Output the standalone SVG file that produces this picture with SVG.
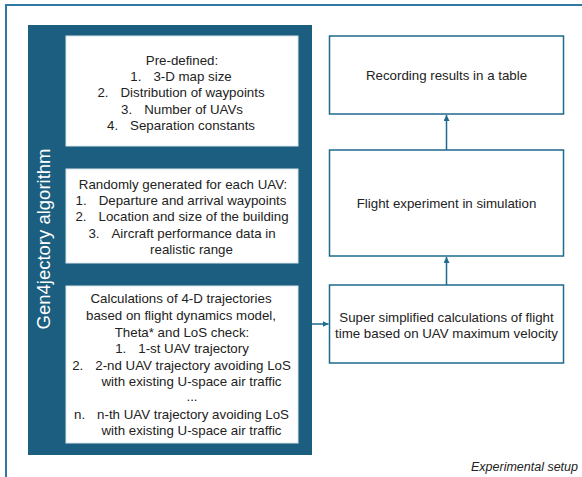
<svg xmlns="http://www.w3.org/2000/svg" width="582" height="477" viewBox="0 0 582 477">
<defs>
<style>
.t{font-family:"Liberation Sans",Arial,sans-serif;font-size:13.3px;fill:#222222;text-anchor:middle}
.wb{fill:#ffffff;stroke:#d9e4ea;stroke-width:1}
.rb{fill:#ffffff;stroke:#1f6a8f;stroke-width:1.5}
.c{stroke:#1f6a8f;stroke-width:1.5;fill:none}
</style>
<marker id="ah" viewBox="0 0 6 6" refX="6" refY="3" markerWidth="4" markerHeight="4" orient="auto">
<path d="M0,0 L6,3 L0,6 Z" fill="#1f6a8f"/>
</marker>
</defs>
<rect x="0" y="0" width="582" height="477" fill="#ffffff"/>
<rect id="frame" x="6" y="5" width="600" height="500" fill="none" stroke="#2f77a5" stroke-width="2"/>
<g id="gen4jectory">
<rect x="28" y="25" width="284" height="430" fill="#1b5e7f"/>
<text x="0" y="0" transform="translate(50,239) rotate(-90)" font-family="Liberation Sans,Arial,sans-serif" font-size="18.5" fill="#ffffff" text-anchor="middle">Gen4jectory algorithm</text>
</g>
<g id="predefined">
<rect class="wb" x="66" y="36" width="232" height="110"/>
<text class="t" x="182" y="65">Pre-defined:</text>
<text class="t" x="181" y="81">1.<tspan dx="12">3-D map size</tspan></text>
<text class="t" x="181" y="97">2.<tspan dx="12">Distribution of waypoints</tspan></text>
<text class="t" x="182" y="114">3.<tspan dx="12">Number of UAVs</tspan></text>
<text class="t" x="181" y="130">4.<tspan dx="12">Separation constants</tspan></text>
</g>
<g id="random">
<rect class="wb" x="66" y="169" width="232" height="94"/>
<text class="t" x="183" y="189">Randomly generated for each UAV:</text>
<text class="t" x="181" y="205">1.<tspan dx="12">Departure and arrival waypoints</tspan></text>
<text class="t" x="182" y="221">2.<tspan dx="12">Location and size of the building</tspan></text>
<text class="t" x="182" y="238">3.<tspan dx="12">Aircraft performance data in</tspan></text>
<text class="t" x="191.5" y="254">realistic range</text>
</g>
<g id="calc4d">
<rect class="wb" x="66" y="286" width="232" height="157"/>
<text class="t" x="181" y="303">Calculations of 4-D trajectories</text>
<text class="t" x="181" y="320">based on flight dynamics model,</text>
<text class="t" x="182" y="337">Theta* and LoS check:</text>
<text class="t" x="182" y="353">1.<tspan dx="12">1-st UAV trajectory</tspan></text>
<text class="t" x="181.5" y="370">2.<tspan dx="12">2-nd UAV trajectory avoiding LoS</tspan></text>
<text class="t" x="191.5" y="386">with existing U-space air traffic</text>
<text class="t" x="192" y="401">...</text>
<text class="t" x="181.5" y="419">n.<tspan dx="12">n-th UAV trajectory avoiding LoS</tspan></text>
<text class="t" x="191.5" y="435">with existing U-space air traffic</text>
</g>
<g id="recording">
<rect class="rb" x="329.5" y="36" width="234" height="78"/>
<text class="t" x="446.5" y="80">Recording results in a table</text>
</g>
<g id="flight">
<rect class="rb" x="329.5" y="150" width="234" height="106"/>
<text class="t" x="446.5" y="208">Flight experiment in simulation</text>
</g>
<g id="simplified">
<rect class="rb" x="329.5" y="285" width="234" height="78"/>
<text class="t" x="446.5" y="322">Super simplified calculations of flight</text>
<text class="t" x="446.5" y="338">time based on UAV maximum velocity</text>
</g>
<g id="connectors">
<line class="c" x1="312" y1="324" x2="328.5" y2="324" marker-end="url(#ah)"/>
<line class="c" x1="446.5" y1="285" x2="446.5" y2="257" marker-end="url(#ah)"/>
<line class="c" x1="446.5" y1="150" x2="446.5" y2="115" marker-end="url(#ah)"/>
</g>
<text x="578" y="471" font-family="Liberation Sans,Arial,sans-serif" font-size="12.5" font-style="italic" fill="#222222" text-anchor="end">Experimental setup</text>
</svg>
